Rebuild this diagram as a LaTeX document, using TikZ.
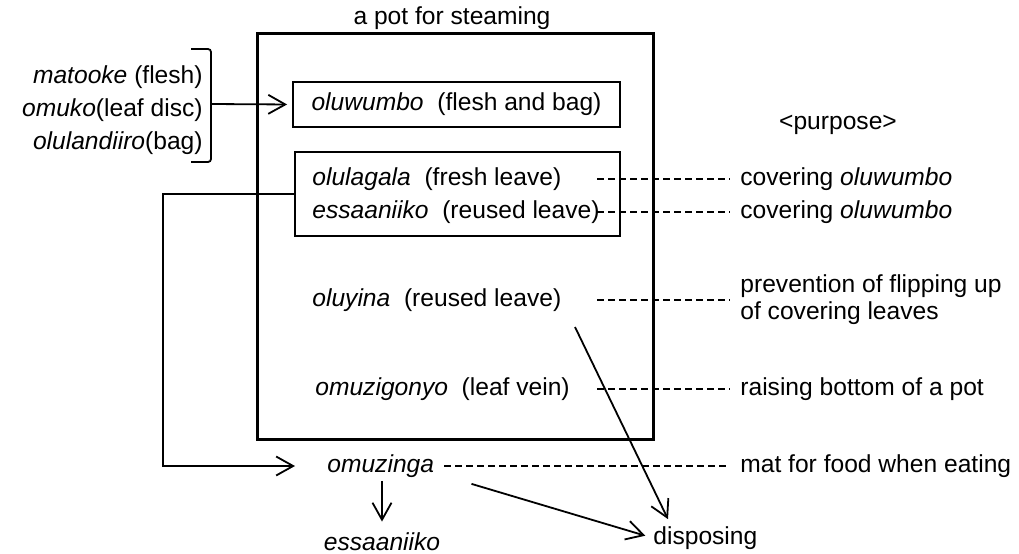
\documentclass[tikz,border=0pt]{standalone}
\usepackage{fontspec}
\setmainfont{Liberation Sans}
\usetikzlibrary{calc,arrows.meta,positioning}

\begin{document}
\begin{tikzpicture}[x=0.5pt,y=-0.5pt,
  txt/.style={inner sep=0pt, font=\fontsize{12.3}{16.5}\selectfont},
  leafbox/.style={draw, line width=0.9pt, inner sep=0pt},
  purpose/.style={txt, anchor=west, inner xsep=5pt},
  arr/.style={line width=0.9pt, -{Straight Barb[length=8.5pt,width=9.5pt]}},
  dashln/.style={line width=0.8pt, dash pattern=on 3.5pt off 2pt}]
\useasboundingbox (0,0) rectangle (1019,553);
\draw[line width=1.5pt] (257,33) rectangle (653,439);
\node[txt] (title) at (452,18) {a pot for steaming};
\node[txt, align=right, anchor=east] (ingr) at (203,110)
  {\textit{matooke} (flesh)\\ \textit{omuko}(leaf disc)\\ \textit{olulandiiro}(bag)};
\node[leafbox, txt, minimum width=163.5pt, minimum height=22.5pt] (wumbo) at (456.5,104.5)
  {\textit{oluwumbo}\ \ (flesh and bag)};
\node[leafbox, minimum width=162.5pt, minimum height=42pt] (cover) at (457.5,194) {};
\node[txt, anchor=west] (lagala) at (312,179) {\textit{olulagala}\ \ (fresh leave)};
\node[txt, anchor=west] (saani) at (312,212) {\textit{essaaniiko}\ \ (reused leave)};
\node[txt, anchor=west] (yina) at (312,300) {\textit{oluyina}\ \ (reused leave)};
\node[txt, anchor=west] (zigonyo) at (315,389) {\textit{omuzigonyo}\ \ (leaf vein)};
\node[txt, anchor=west] (zinga) at (327,466) {\textit{omuzinga}};
\node[txt] (saani2) at (382,542) {\textit{essaaniiko}};
\node[txt, anchor=west] (dispose) at (653,538) {disposing};
\node[txt] (purp) at (838,125) {<purpose>};
\node[purpose] (cov1) at (730,179) {covering \textit{oluwumbo}};
\node[purpose] (cov2) at (730,212) {covering \textit{oluwumbo}};
\node[purpose, align=left, font=\fontsize{12.3}{13.5}\selectfont] (prevent) at (730,300)
  {prevention of flipping up\\of covering leaves};
\node[purpose] (raise) at (730,389) {raising bottom of a pot};
\node[purpose] (mat) at (730,466) {mat for food when eating};
\coordinate (brk) at (211,104);
\coordinate (loop) at (163,466);
\coordinate (dcol) at (597,0);
\coordinate (yinaEnd) at (575,327);
\draw[line width=0.9pt, rounded corners=1.5pt] (191,49) -| (brk) |- (191,162);
\draw[arr, shorten >=2.5pt] (brk) -- (wumbo.west);
\draw[arr, shorten >=16pt] (cover.west) -| (loop) -- (zinga.west);
\draw[dashln] (lagala -| dcol) -- (cov1);
\draw[dashln] (saani -| dcol) -- (cov2);
\draw[dashln] (yina -| dcol) -- (prevent);
\draw[dashln] (zigonyo -| dcol) -- (raise);
\draw[dashln] ([xshift=5pt]zinga.east) -- (mat);
\draw[arr, shorten <=1.5pt, shorten >=5.5pt] (zinga.south -| saani2) -- (saani2.north);
\draw[arr, shorten >=4pt] ($(zinga.south east)+(37,6)$) -- (dispose.west);
\draw[arr] (yinaEnd) -- ($(dispose.north west)+(15,-7)$);
\end{tikzpicture}
\end{document}
